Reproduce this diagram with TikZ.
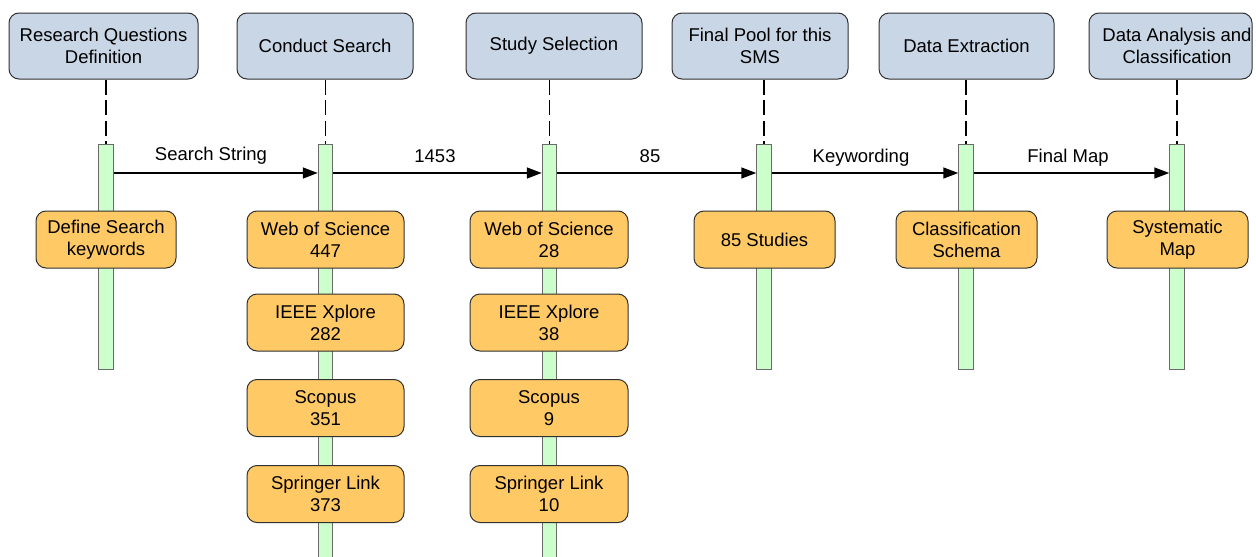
\documentclass[tikz,border=0pt]{standalone}
\usepackage{fontspec}
\setmainfont{Liberation Sans}
\usetikzlibrary{arrows.meta}
\definecolor{hdrfill}{HTML}{C9D6E6}
\definecolor{orfill}{HTML}{FFC965}
\definecolor{barfill}{HTML}{CCFFCC}
\definecolor{edge}{HTML}{303030}
\definecolor{baredge}{HTML}{6A6A6A}
\tikzset{
  hdr/.style={draw=edge, line width=1pt, fill=hdrfill, rounded corners=10pt, minimum height=66pt, align=center, inner sep=0pt, font=\fontsize{18.5}{22}\selectfont},
  act/.style={draw=edge, line width=1pt, fill=orfill, rounded corners=10pt, minimum height=57pt, align=center, inner sep=0pt, font=\fontsize{18.5}{22}\selectfont},
  lbar/.style={draw=baredge, line width=1pt, fill=barfill, minimum width=14.5pt, inner sep=0pt},
  life/.style={line width=1.3pt, dash pattern=on 15pt off 5.5pt},
  msg/.style={line width=1.5pt, -{Triangle[length=15pt,width=11pt]}},
  lbl/.style={inner sep=0pt, anchor=base, font=\fontsize{18.5}{22}\selectfont}
}
\begin{document}
\begin{tikzpicture}[x=1pt,y=-1pt]
\useasboundingbox (0,0) rectangle (1256,557);
% lifeline bars
\node[lbar, minimum height=225pt] (b1) at (106,256.5) {};
\node[lbar, minimum height=418pt] (b2) at (325.5,353) {};
\node[lbar, minimum height=418pt] (b3) at (549.5,353) {};
\node[lbar, minimum height=225pt] (b4) at (764,256.5) {};
\node[lbar, minimum height=225pt] (b5) at (966,256.5) {};
\node[lbar, minimum height=225pt] (b6) at (1177,256.5) {};
% headers
\node[hdr, minimum width=189pt] (h1) at (103.5,46) {Research Questions\\Definition};
\node[hdr, minimum width=176pt] (h2) at (325,46) {Conduct Search};
\node[hdr, minimum width=176pt] (h3) at (554,46) {Study Selection};
\node[hdr, minimum width=176pt] (h4) at (760,46) {Final Pool for this\\SMS};
\node[hdr, minimum width=175pt] (h5) at (966.5,46) {Data Extraction};
\node[hdr, minimum width=163pt] (h6) at (1170.5,46) {};
\node[align=center, inner sep=0pt, font=\fontsize{18.5}{22}\selectfont] (t6) at (1177,46) {Data Analysis and\\Classification};
% dashed lifelines
\foreach \i in {1,...,6}{
  \draw[life] (b\i.north |- h\i.south) -- (b\i.north);
}
% messages
\coordinate (my) at (0,173);
\draw[msg] (b1.east |- my) -- (b2.west |- my);
\draw[msg] (b2.east |- my) -- (b3.west |- my);
\draw[msg] (b3.east |- my) -- (b4.west |- my);
\draw[msg] (b4.east |- my) -- (b5.west |- my);
\draw[msg] (b5.east |- my) -- (b6.west |- my);
\node[lbl] (l1) at (211,160) {Search String};
\node[lbl] (l2) at (435,162) {1453};
\node[lbl] (l3) at (650,162) {85};
\node[lbl] (l4) at (861,162) {Keywording};
\node[lbl] (l5) at (1068,162) {Final Map};
% activities
\node[act, minimum width=140pt] (a1) at (106,239.5) {Define Search\\keywords};
\node[act, minimum width=157pt] (a2) at (325.5,239.5) {Web of Science\\447};
\node[act, minimum width=157pt] (a3) at (325.5,322.5) {IEEE Xplore\\282};
\node[act, minimum width=157pt] (a4) at (325.5,408) {Scopus\\351};
\node[act, minimum width=157pt] (a5) at (325.5,494) {Springer Link\\373};
\node[act, minimum width=158pt] (s2) at (549,239.5) {Web of Science\\28};
\node[act, minimum width=158pt] (s3) at (549,322.5) {IEEE Xplore\\38};
\node[act, minimum width=158pt] (s4) at (549,408) {Scopus\\9};
\node[act, minimum width=158pt] (s5) at (549,494) {Springer Link\\10};
\node[act, minimum width=141pt] (p1) at (764.5,239.5) {85 Studies};
\node[act, minimum width=141pt] (e1) at (966.5,239.5) {Classification\\Schema};
\node[act, minimum width=141pt] (m1) at (1177.5,239.5) {Systematic\\Map};
\end{tikzpicture}
\end{document}
